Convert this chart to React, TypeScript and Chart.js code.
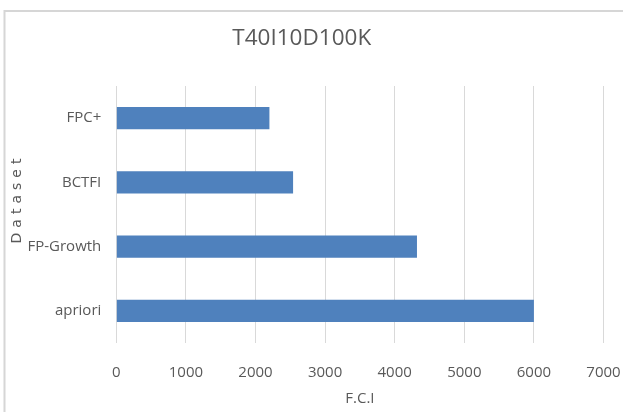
import React, { useEffect, useRef } from "react";
import { Chart, registerables } from "chart.js";

Chart.register(...registerables);

const categories = ["FPC+", "BCTFI", "FP-Growth", "apriori"];
const fciValues = [2200, 2540, 4320, 6000];
const chartTitle = "T40I10D100K";
const xTitle = "F.C.I";
const yTitle = "Dataset";

const FONT = "'Open Sans', sans-serif";
const TEXT = "#595959";

const framePlugin = {
  id: "frameAndYTitle",
  beforeDraw(chart: any) {
    const ctx = chart.ctx;
    ctx.save();
    ctx.fillStyle = "#ffffff";
    ctx.fillRect(0, 0, chart.width, chart.height);
    ctx.strokeStyle = "#d6d6d6";
    ctx.lineWidth = 2;
    ctx.beginPath();
    ctx.moveTo(4.5, chart.height);
    ctx.lineTo(4.5, 11);
    ctx.lineTo(chart.width, 11);
    ctx.stroke();
    ctx.restore();
  },
  afterDraw(chart: any) {
    const ctx = chart.ctx;
    ctx.save();
    ctx.translate(17, 201);
    ctx.rotate(-Math.PI / 2);
    ctx.fillStyle = TEXT;
    ctx.font = "14px 'DejaVu Sans', sans-serif";
    (ctx as any).letterSpacing = "5px";
    ctx.textAlign = "center";
    ctx.textBaseline = "middle";
    ctx.fillText(yTitle, 2.5, 0);
    ctx.restore();
  },
};

export default function App() {
  const ref = useRef<HTMLCanvasElement | null>(null);
  useEffect(() => {
    if (!ref.current) return;
    const chart = new Chart(ref.current, {
      type: "bar",
      data: {
        labels: categories,
        datasets: [
          {
            data: fciValues,
            backgroundColor: "#4f81bd",
            borderWidth: 0,
            barPercentage: 0.344,
            categoryPercentage: 1,
          },
        ],
      },
      options: {
        indexAxis: "y",
        animation: false,
        responsive: false,
        layout: { padding: { top: 0, right: 19.5, bottom: 0, left: 0 } },
        plugins: {
          legend: { display: false },
          tooltip: { enabled: false },
          title: {
            display: true,
            text: chartTitle,
            color: TEXT,
            font: { family: FONT, size: 22.5, weight: "normal" },
            padding: { top: 25, bottom: 34 },
          },
        },
        scales: {
          x: {
            min: 0,
            max: 7000,
            ticks: {
              stepSize: 1000,
              color: TEXT,
              font: { family: FONT, size: 15 },
              padding: 21,
              maxRotation: 0,
              callback: (v: any) => String(v),
            },
            grid: { color: "#d9d9d9", drawTicks: false, lineWidth: 1 },
            border: { display: false },
            title: {
              display: true,
              text: xTitle,
              color: TEXT,
              font: { family: FONT, size: 15 },
              padding: { top: 0, bottom: 4 },
            },
            afterFit: (scale: any) => {
              scale.height = 412 - 343;
              scale.paddingRight = 0;
              scale.paddingLeft = 0;
            },
          },
          y: {
            ticks: {
              color: TEXT,
              font: { family: FONT, size: 15 },
              padding: 15,
            },
            grid: { display: false, drawTicks: false },
            border: { display: false },
            afterFit: (scale: any) => {
              scale.width = 116.3;
            },
          },
        },
      },
      plugins: [framePlugin],
    });
    return () => chart.destroy();
  }, []);
  return (
    <div style={{ position: "fixed", left: 0, top: 0, width: 623, height: 412 }}>
      <canvas ref={ref} width={623} height={412} style={{ width: 623, height: 412 }} />
    </div>
  );
}
